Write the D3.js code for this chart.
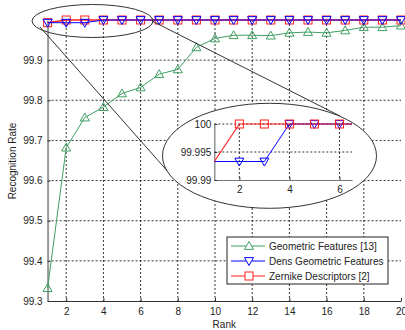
<!DOCTYPE html>
<html>
<head>
<meta charset="utf-8">
<script src="https://cdn.jsdelivr.net/npm/d3@7"></script>
<style>
body { margin: 0; background: #fff; }
text { font-family: "Liberation Sans", Arial, sans-serif; }
</style>
</head>
<body>
<div id="chart"></div>
<script>
var ranks = [1, 2, 3, 4, 5, 6, 7, 8, 9, 10, 11, 12, 13, 14, 15, 16, 17, 18, 19, 20];
var geometric = [99.332, 99.682, 99.757, 99.783, 99.817, 99.832, 99.865, 99.877, 99.932, 99.954,
    99.962, 99.962, 99.961, 99.968, 99.970, 99.968, 99.974, 99.982, 99.982, 99.986];
var dens = [99.9933, 99.9933, 99.9933, 100, 100, 100, 100, 100, 100, 100,
    100, 100, 100, 100, 100, 100, 100, 100, 100, 100];
var zernike = [99.9933, 100, 100, 100, 100, 100, 100, 100, 100, 100,
    100, 100, 100, 100, 100, 100, 100, 100, 100, 100];
var seriesNames = ["Geometric Features [13]", "Dens Geometric Features", "Zernike Descriptors [2]"];
var xTicks = [2, 4, 6, 8, 10, 12, 14, 16, 18, 20];
var yTicks = [99.3, 99.4, 99.5, 99.6, 99.7, 99.8, 99.9];
var insetXTicks = [2, 4, 6];
var insetYTicks = [99.99, 99.995, 100];

var green = "#3f9f62", blue = "#0000ff", red = "#ff2020";

var svg = d3.select("#chart").append("svg")
    .attr("width", 405).attr("height", 330);

var x = d3.scaleLinear().domain([1, 20]).range([47.6, 401]);
var y = d3.scaleLinear().domain([99.3, 100]).range([301, 20]);

// grid
var grid = svg.append("g").attr("stroke", "#000").attr("stroke-width", 0.8)
    .attr("stroke-dasharray", "2,2");
grid.selectAll("line.v").data(xTicks.filter(function(d) { return d < 20; }))
    .enter().append("line")
    .attr("x1", function(d) { return x(d); }).attr("x2", function(d) { return x(d); })
    .attr("y1", y(100)).attr("y2", y(99.3));
grid.selectAll("line.h").data(yTicks.filter(function(d) { return d > 99.3; }))
    .enter().append("line")
    .attr("x1", x(1)).attr("x2", x(20))
    .attr("y1", function(d) { return y(d); }).attr("y2", function(d) { return y(d); });

// axes
var xAxis = svg.append("g").attr("transform", "translate(0," + y(99.3) + ")")
    .call(d3.axisBottom(x).tickValues(xTicks).tickSizeInner(-3).tickSizeOuter(0).tickPadding(7));
var yAxis = svg.append("g").attr("transform", "translate(" + x(1) + ",0)")
    .call(d3.axisLeft(y).tickValues(yTicks).tickSizeInner(-3).tickSizeOuter(0).tickPadding(5)
        .tickFormat(d3.format(".1f")));
[xAxis, yAxis].forEach(function(a) {
    a.selectAll("text").attr("font-size", 10).attr("fill", "#222");
    a.selectAll(".tick line").attr("stroke", "#333");
});
xAxis.select(".domain").attr("stroke", "#333");
yAxis.select(".domain").attr("stroke", "#999").attr("stroke-width", 2);

svg.append("text").attr("x", x(10.5)).attr("y", 328).attr("text-anchor", "middle")
    .attr("font-size", 10).attr("fill", "#222").text("Rank");
svg.append("text").attr("transform", "translate(16,161) rotate(-90)").attr("text-anchor", "middle")
    .attr("font-size", 10).attr("fill", "#222").text("Recognition Rate");

function tri(up, s) {
    return up ? "M0," + (-s) + "L" + s + "," + (s * 0.75) + "L" + (-s) + "," + (s * 0.75) + "Z"
              : "M0," + s + "L" + s + "," + (-s * 0.75) + "L" + (-s) + "," + (-s * 0.75) + "Z";
}
function drawSeries(g, xs, ys, vals, color, width, marker, filterX) {
    var pts = vals.map(function(v, i) { return [ranks[i], v]; });
    g.append("path").datum(pts)
        .attr("fill", "none").attr("stroke", color).attr("stroke-width", width)
        .attr("d", d3.line().x(function(d) { return xs(d[0]); }).y(function(d) { return ys(d[1]); }));
    var mp = pts.filter(filterX || function() { return true; });
    var m = g.selectAll(null).data(mp).enter();
    if (marker === "square") {
        m.append("rect").attr("x", function(d) { return xs(d[0]) - 4; })
            .attr("y", function(d) { return ys(d[1]) - 4; })
            .attr("width", 8).attr("height", 8)
            .attr("fill", "none").attr("stroke", color).attr("stroke-width", 1);
    } else {
        m.append("path").attr("d", tri(marker === "up", 4.5))
            .attr("transform", function(d) { return "translate(" + xs(d[0]) + "," + ys(d[1]) + ")"; })
            .attr("fill", "none").attr("stroke", color).attr("stroke-width", 1);
    }
}

var main = svg.append("g");
drawSeries(main, x, y, geometric, green, 1, "up");
drawSeries(main, x, y, zernike, red, 1.5, "square");
drawSeries(main, x, y, dens, blue, 1, "down");

// zoom callout
svg.append("ellipse").attr("cx", 92.5).attr("cy", 21).attr("rx", 60.5).attr("ry", 16.5)
    .attr("fill", "none").attr("stroke", "#333").attr("stroke-width", 1);
svg.append("line").attr("x1", 40).attr("y1", 27).attr("x2", 170).attr("y2", 174)
    .attr("stroke", "#333").attr("stroke-width", 1);
svg.append("line").attr("x1", 152).attr("y1", 21).attr("x2", 340).attr("y2", 116)
    .attr("stroke", "#333").attr("stroke-width", 1);
svg.append("ellipse").attr("cx", 269.5).attr("cy", 155.8).attr("rx", 107).attr("ry", 52.5)
    .attr("fill", "#fff").attr("stroke", "#333").attr("stroke-width", 1);

// inset
var ix = d3.scaleLinear().domain([1, 6.5]).range([214.3, 352]);
var iy = d3.scaleLinear().domain([99.99, 100]).range([180, 124]);
svg.append("clipPath").attr("id", "insetClip").append("rect")
    .attr("x", ix(1)).attr("y", iy(100) - 5).attr("width", ix(6.5) - ix(1)).attr("height", iy(99.99) - iy(100) + 5);
var igrid = svg.append("g").attr("stroke", "#000").attr("stroke-width", 0.8).attr("stroke-dasharray", "2,2");
igrid.selectAll("line.v").data(insetXTicks).enter().append("line")
    .attr("x1", function(d) { return ix(d); }).attr("x2", function(d) { return ix(d); })
    .attr("y1", iy(100)).attr("y2", iy(99.99));
igrid.selectAll("line.h").data(insetYTicks.filter(function(d) { return d > 99.99; })).enter().append("line")
    .attr("x1", ix(1)).attr("x2", ix(6.5))
    .attr("y1", function(d) { return iy(d); }).attr("y2", function(d) { return iy(d); });

var ixAxis = svg.append("g").attr("transform", "translate(0," + iy(99.99) + ")")
    .call(d3.axisBottom(ix).tickValues(insetXTicks).tickSizeInner(-3).tickSizeOuter(0).tickPadding(6)
        .tickFormat(d3.format("d")));
var iyAxis = svg.append("g").attr("transform", "translate(" + ix(1) + ",0)")
    .call(d3.axisLeft(iy).tickValues(insetYTicks).tickSizeInner(-3).tickSizeOuter(0).tickPadding(3)
        .tickFormat(function(d) { return d3.format("")(+d.toFixed(3)); }));
[ixAxis, iyAxis].forEach(function(a) {
    a.selectAll("text").attr("font-size", 10).attr("fill", "#222");
    a.selectAll(".tick line").attr("stroke", "#333");
    a.select(".domain").attr("stroke", "#777").attr("stroke-width", 1.2);
});

var inMarkers = function(d) { return d[0] >= 2 && d[0] <= 6; };
var insetLines = svg.append("g").attr("clip-path", "url(#insetClip)");
drawSeries(insetLines, ix, iy, dens, blue, 1, "down", inMarkers);
drawSeries(insetLines, ix, iy, zernike, red, 1.2, "square", inMarkers);

// legend
var lg = svg.append("g").attr("transform", "translate(227,237)");
lg.append("rect").attr("width", 161).attr("height", 47)
    .attr("fill", "#fff").attr("stroke", "#222").attr("stroke-width", 1);
var legendColors = [green, blue, red];
var legendMarkers = ["up", "down", "square"];
seriesNames.forEach(function(name, i) {
    var yy = 9 + i * 15;
    lg.append("line").attr("x1", 4).attr("x2", 38).attr("y1", yy).attr("y2", yy)
        .attr("stroke", legendColors[i]).attr("stroke-width", 1.2);
    if (legendMarkers[i] === "square") {
        lg.append("rect").attr("x", 18).attr("y", yy - 4).attr("width", 8).attr("height", 8)
            .attr("fill", "#fff").attr("stroke", legendColors[i]);
    } else {
        lg.append("path").attr("d", tri(legendMarkers[i] === "up", 4.5))
            .attr("transform", "translate(22," + yy + ")")
            .attr("fill", "#fff").attr("stroke", legendColors[i]);
    }
    lg.append("text").attr("x", 42).attr("y", yy + 3.5).attr("font-size", 10)
        .attr("fill", "#222").text(name);
});
</script>
</body>
</html>
